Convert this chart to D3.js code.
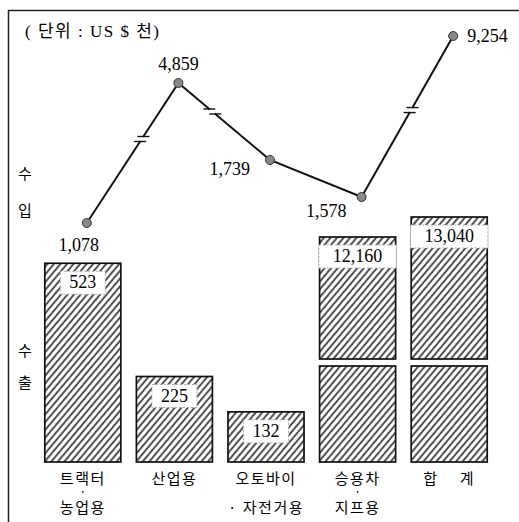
<!DOCTYPE html>
<html>
<head>
<meta charset="utf-8">
<script src="https://cdn.jsdelivr.net/npm/d3@7"></script>
<style>
  body { margin: 0; background: #fff; }
  .num { font-family: "Liberation Serif", "DejaVu Serif", "Noto Sans CJK KR", serif; }
  .kr { font-family: "Noto Sans CJK KR", sans-serif; }
  .dot { font-family: "DejaVu Sans", sans-serif; }
</style>
</head>
<body>
<script>
// Constant
const w = 519;
const h = 522;

// Data
const categories = ['트랙터·농업용', '산업용', '오토바이·자전거용', '승용차·지프용', '합계'];
const catLines = [['트랙터', '•', '농업용'], ['산업용'], ['오토바이', '· 자전거용'], ['승용차', '•', '지프용'], ['합　 계']];
const importValues = [1078, 4859, 1739, 1578, 9254];
const importLabels = ['1,078', '4,859', '1,739', '1,578', '9,254'];
const exportValues = [523, 225, 132, 12160, 13040];
const exportLabels = ['523', '225', '132', '12,160', '13,040'];

// label offsets for the import values (anchor, dx, dy)
const impLabelPos = [['middle', -8, 28], ['middle', 0, -13], ['end', -20, 15], ['end', -15, 20], ['start', 14, 6]];
// axis breaks on the line: segment index, position along segment
const lineBreaks = [[0, 0.6], [1, 0.37], [3, 0.54]];

const svg = d3.select('body')
  .append('svg')
  .attr('width', w)
  .attr('height', h);

// hatch pattern
const defs = svg.append('defs');
defs.append('pattern')
  .attr('id', 'hatch')
  .attr('patternUnits', 'userSpaceOnUse')
  .attr('width', 5)
  .attr('height', 10)
  .attr('patternTransform', 'rotate(40)')
  .append('line')
  .attr('x1', 1).attr('y1', 0).attr('x2', 1).attr('y2', 10)
  .attr('stroke', '#111')
  .attr('stroke-width', 1.45);

// frame
svg.append('path')
  .attr('d', 'M8.5,522 L8.5,10.5 L519,10.5')
  .attr('fill', 'none')
  .attr('stroke', '#222')
  .attr('stroke-width', 1.5);

// Scales
const x = d3.scaleBand().domain(categories).range([37, 495]).paddingInner(0.17).paddingOuter(0.085);
const yLow = d3.scaleLinear().domain([0, 600]).range([462, 234]);
const yHigh = d3.scaleLinear().domain([6800, 13040]).range([359, 217]);
const breakTop = 366;
// the import line is drawn on a broken (non-proportional) axis
const sortedImp = importValues.slice().sort((a, b) => a - b);
const yImp = d3.scaleLinear().domain(sortedImp).range([223, 197, 160, 83, 36]);

const cx = (i) => x(categories[i]) + x.bandwidth() / 2;

// Bars (수출)
const bars = svg.append('g');
exportValues.forEach((v, i) => {
  const x0 = x(categories[i]);
  const bw = x.bandwidth();
  let top;
  if (v > 1000) {
    bars.append('rect')
      .attr('x', x0).attr('y', breakTop)
      .attr('width', bw).attr('height', yLow(0) - breakTop)
      .attr('fill', 'url(#hatch)').attr('stroke', '#111').attr('stroke-width', 1.7);
    top = yHigh(v);
    bars.append('rect')
      .attr('x', x0).attr('y', top)
      .attr('width', bw).attr('height', yHigh.range()[0] - top)
      .attr('fill', 'url(#hatch)').attr('stroke', '#111').attr('stroke-width', 1.7);
  } else {
    top = yLow(v);
    bars.append('rect')
      .attr('x', x0).attr('y', top)
      .attr('width', bw).attr('height', yLow(0) - top)
      .attr('fill', 'url(#hatch)').attr('stroke', '#111').attr('stroke-width', 1.7);
  }
  // value box
  const box = bars.append('rect');
  const t = bars.append('text')
    .attr('class', 'num')
    .attr('x', cx(i)).attr('y', top + 25)
    .attr('text-anchor', 'middle')
    .attr('font-size', 18)
    .text(exportLabels[i]);
  const tw = t.node().getComputedTextLength();
  const pad = v > 1000 ? 14 : 9;
  box.attr('x', cx(i) - tw / 2 - pad).attr('y', top + 8)
    .attr('width', tw + pad * 2).attr('height', 23)
    .attr('fill', '#fff')
    .attr('stroke', '#aaa').attr('stroke-width', 1).attr('stroke-dasharray', '2,2');
});

// Line (수입)
const pts = importValues.map((v, i) => [cx(i) + 4, yImp(v)]);
svg.append('path')
  .attr('d', d3.line()(pts))
  .attr('fill', 'none')
  .attr('stroke', '#111')
  .attr('stroke-width', 2);

// break marks
lineBreaks.forEach(([s, f]) => {
  const a = pts[s], b = pts[s + 1];
  const px = a[0] + (b[0] - a[0]) * f;
  const py = a[1] + (b[1] - a[1]) * f;
  const k = (b[0] - a[0]) / (b[1] - a[1]);
  svg.append('line')
    .attr('x1', px + k * -2).attr('y1', py - 2)
    .attr('x2', px + k * 2).attr('y2', py + 2)
    .attr('stroke', '#fff').attr('stroke-width', 5);
  [-2.5, 2.5].forEach(d => {
    const lx = px + k * d;
    svg.append('line')
      .attr('x1', lx - 6).attr('x2', lx + 6)
      .attr('y1', py + d).attr('y2', py + d)
      .attr('stroke', '#111').attr('stroke-width', 1.4);
  });
});

svg.selectAll('circle.pt')
  .data(pts)
  .enter()
  .append('circle')
  .attr('class', 'pt')
  .attr('cx', d => d[0])
  .attr('cy', d => d[1])
  .attr('r', 4.5)
  .attr('fill', '#888')
  .attr('stroke', '#333')
  .attr('stroke-width', 1);

svg.selectAll('text.imp')
  .data(importLabels)
  .enter()
  .append('text')
  .attr('class', 'imp num')
  .attr('x', (d, i) => pts[i][0] + impLabelPos[i][1])
  .attr('y', (d, i) => pts[i][1] + impLabelPos[i][2])
  .attr('text-anchor', (d, i) => impLabelPos[i][0])
  .attr('font-size', 18)
  .text(d => d);

// category labels
catLines.forEach((lines, i) => {
  lines.forEach((s, j) => {
    const dot = s === '•';
    svg.append('text')
      .attr('class', dot ? 'dot' : 'kr')
      .attr('x', cx(i))
      .attr('y', dot ? 494 : (j === 0 ? 484 : 513))
      .attr('text-anchor', 'middle')
      .attr('font-size', dot ? 6 : 15)
      .attr('letter-spacing', dot ? 0 : 1.5)
      .style('white-space', 'pre')
      .text(s);
  });
});

// side labels
[['수', 179], ['입', 216], ['수', 356], ['출', 388]].forEach(([s, y]) => {
  svg.append('text')
    .attr('class', 'kr')
    .attr('x', 25).attr('y', y)
    .attr('text-anchor', 'middle')
    .attr('font-size', 15)
    .text(s);
});

// unit
svg.append('text')
  .attr('class', 'num')
  .attr('x', 25).attr('y', 37)
  .attr('font-size', 17)
  .attr('letter-spacing', 1.5)
  .style('white-space', 'pre')
  .text('( 단위 : US $ 천)');
</script>
</body>
</html>
